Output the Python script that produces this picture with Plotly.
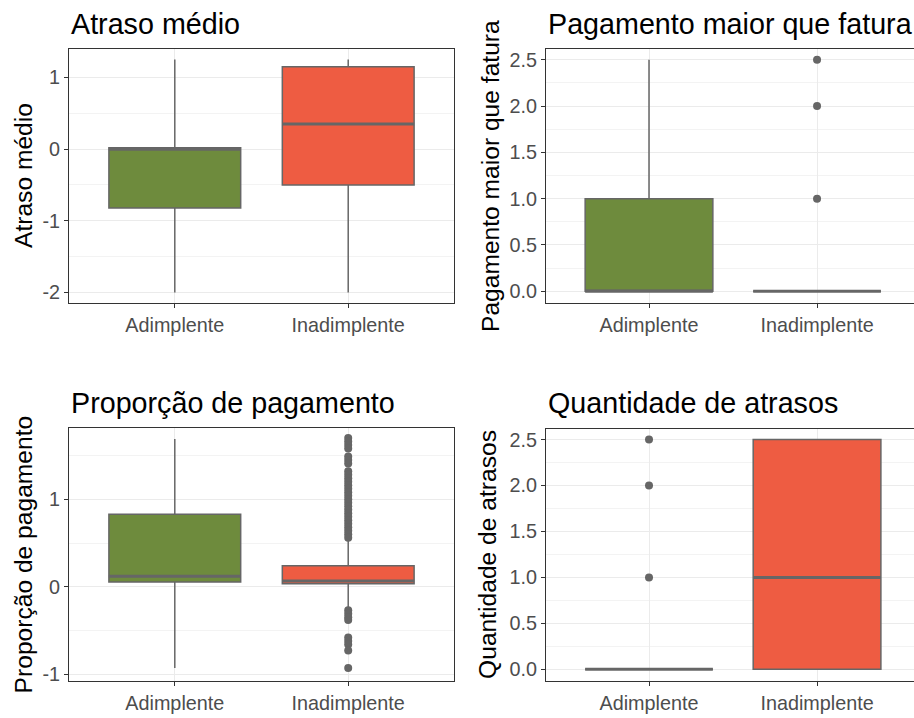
import plotly.graph_objects as go

# ---------------- data ----------------
categories = ["Adimplente", "Inadimplente"]
fill_colors = ["#6E8B3D", "#EE5C42"]

titles = ["Atraso médio", "Pagamento maior que fatura",
          "Proporção de pagamento", "Quantidade de atrasos"]

# Atraso médio
atraso_q1 = [-0.82, -0.50]
atraso_med = [0.00, 0.35]
atraso_q3 = [0.02, 1.15]
atraso_lo = [-2.00, -2.00]
atraso_hi = [1.25, 1.25]
atraso_out = [[], []]
atraso_ticks = [-2, -1, 0, 1]
atraso_ticklabels = ["-2", "-1", "0", "1"]

# Pagamento maior que fatura
pag_q1 = [0.0, 0.0]
pag_med = [0.0, 0.0]
pag_q3 = [1.0, 0.0]
pag_lo = [0.0, 0.0]
pag_hi = [2.5, 0.0]
pag_out = [[], [1.0, 2.0, 2.5]]
pag_ticks = [0, 0.5, 1, 1.5, 2, 2.5]
pag_ticklabels = ["0.0", "0.5", "1.0", "1.5", "2.0", "2.5"]

# Proporção de pagamento
prop_q1 = [0.055, 0.035]
prop_med = [0.12, 0.065]
prop_q3 = [0.83, 0.24]
prop_lo = [-0.93, -0.24]
prop_hi = [1.69, 0.53]
prop_out = [[], [1.70, 1.66, 1.62, 1.58,
                 1.49, 1.45, 1.41,
                 1.32, 1.28, 1.24, 1.20, 1.16, 1.12, 1.08, 1.04, 1.00, 0.96,
                 0.92, 0.88, 0.84, 0.80, 0.76, 0.72, 0.68, 0.64, 0.60, 0.56,
                 -0.27, -0.31, -0.35, -0.38,
                 -0.58, -0.62, -0.66, -0.73, -0.93]]
prop_ticks = [-1, 0, 1]
prop_ticklabels = ["-1", "0", "1"]

# Quantidade de atrasos
qtd_q1 = [0.0, 0.0]
qtd_med = [0.0, 1.0]
qtd_q3 = [0.0, 2.5]
qtd_lo = [0.0, 0.0]
qtd_hi = [0.0, 2.5]
qtd_out = [[1.0, 2.0, 2.5], []]
qtd_ticks = [0, 0.5, 1, 1.5, 2, 2.5]
qtd_ticklabels = ["0.0", "0.5", "1.0", "1.5", "2.0", "2.5"]

# ---------------- layout helpers ----------------
W, H = 914, 718
FONT = "Liberation Sans, Arial, sans-serif"
LINE_COL = "#666666"
BOX_W = 0.76

def px_x(p):
    return p / W

def px_y(p):
    return 1 - p / H

panels = [
    dict(q1=atraso_q1, med=atraso_med, q3=atraso_q3, lo=atraso_lo, hi=atraso_hi, out=atraso_out,
         ticks=atraso_ticks, labels=atraso_ticklabels, yr=[-2.15, 1.40], minor=0.5,
         xd=[69, 454], yd=[49, 305], xr=[-0.61, 1.61], ytitle_x=23, title_y=24, right=True),
    dict(q1=pag_q1, med=pag_med, q3=pag_q3, lo=pag_lo, hi=pag_hi, out=pag_out,
         ticks=pag_ticks, labels=pag_ticklabels, yr=[-0.13, 2.62], minor=0.25,
         xd=[546, 914], yd=[49, 305], xr=[-0.613, 1.577], ytitle_x=490, title_y=24, right=False),
    dict(q1=prop_q1, med=prop_med, q3=prop_q3, lo=prop_lo, hi=prop_hi, out=prop_out,
         ticks=prop_ticks, labels=prop_ticklabels, yr=[-1.08, 1.82], minor=0.5,
         xd=[69, 454], yd=[430, 685], xr=[-0.61, 1.61], ytitle_x=23, title_y=405, right=True),
    dict(q1=qtd_q1, med=qtd_med, q3=qtd_q3, lo=qtd_lo, hi=qtd_hi, out=qtd_out,
         ticks=qtd_ticks, labels=qtd_ticklabels, yr=[-0.13, 2.62], minor=0.25,
         xd=[546, 914], yd=[431, 685], xr=[-0.613, 1.577], ytitle_x=488, title_y=405, right=False),
]

fig = go.Figure()
annotations = []
layout_axes = {}

for k, p in enumerate(panels):
    sfx = "" if k == 0 else str(k + 1)
    xa, ya = "x" + sfx, "y" + sfx
    for i, cat in enumerate(categories):
        fig.add_trace(go.Box(
            x=[i], q1=[p["q1"][i]], median=[p["med"][i]], q3=[p["q3"][i]],
            lowerfence=[p["lo"][i]], upperfence=[p["hi"][i]],
            fillcolor=fill_colors[i], line=dict(color=LINE_COL, width=1.5),
            whiskerwidth=0, width=BOX_W, boxpoints=False,
            xaxis=xa, yaxis=ya, showlegend=False, hoverinfo="skip"))
        # thicker median line (as in ggplot)
        fig.add_trace(go.Scatter(
            x=[i - BOX_W / 2, i + BOX_W / 2], y=[p["med"][i], p["med"][i]],
            mode="lines", line=dict(color=LINE_COL, width=3),
            xaxis=xa, yaxis=ya, showlegend=False, hoverinfo="skip"))
        if p["out"][i]:
            fig.add_trace(go.Scatter(
                x=[i] * len(p["out"][i]), y=p["out"][i], mode="markers",
                marker=dict(color=LINE_COL, size=8, line=dict(width=0)),
                xaxis=xa, yaxis=ya, showlegend=False, hoverinfo="skip"))

    common = dict(showline=True, linecolor="#333333", linewidth=1,
                  ticks="outside", ticklen=4, tickcolor="#333333", tickwidth=1,
                  zeroline=False, showgrid=True, gridcolor="#EBEBEB", gridwidth=1,
                  tickfont=dict(family=FONT, size=19.8, color="#4D4D4D"))
    layout_axes["xaxis" + sfx] = dict(
        common, mirror=True, domain=[px_x(p["xd"][0]), px_x(p["xd"][1])], range=p["xr"],
        tickmode="array", tickvals=list(range(len(categories))), ticktext=categories,
        anchor=ya, fixedrange=True)
    layout_axes["yaxis" + sfx] = dict(
        common, mirror=p["right"], domain=[px_y(p["yd"][1]), px_y(p["yd"][0])], range=p["yr"],
        tickmode="array", tickvals=p["ticks"], ticktext=p["labels"],
        minor=dict(dtick=p["minor"], tick0=0, showgrid=True, gridcolor="#F3F3F3",
                   gridwidth=0.6, ticks=""),
        anchor=xa, fixedrange=True)

    annotations.append(dict(
        text=titles[k], xref="paper", yref="paper", x=px_x(p["xd"][0]),
        y=px_y(p["title_y"]), xanchor="left", yanchor="middle", showarrow=False,
        font=dict(family=FONT, size=28.7, color="black")))
    annotations.append(dict(
        text=titles[k], xref="paper", yref="paper", x=px_x(p["ytitle_x"]),
        y=px_y((p["yd"][0] + p["yd"][1]) / 2), xanchor="center", yanchor="middle",
        textangle=-90, showarrow=False,
        font=dict(family=FONT, size=24.6, color="black")))

fig.update_layout(
    width=W, height=H, margin=dict(l=0, r=0, t=0, b=0),
    paper_bgcolor="white", plot_bgcolor="white",
    font=dict(family=FONT), annotations=annotations, **layout_axes)

fig.write_html("out.html", config={"displayModeBar": False},
               post_script="document.body.style.margin='0px';document.body.style.overflow='hidden';")
